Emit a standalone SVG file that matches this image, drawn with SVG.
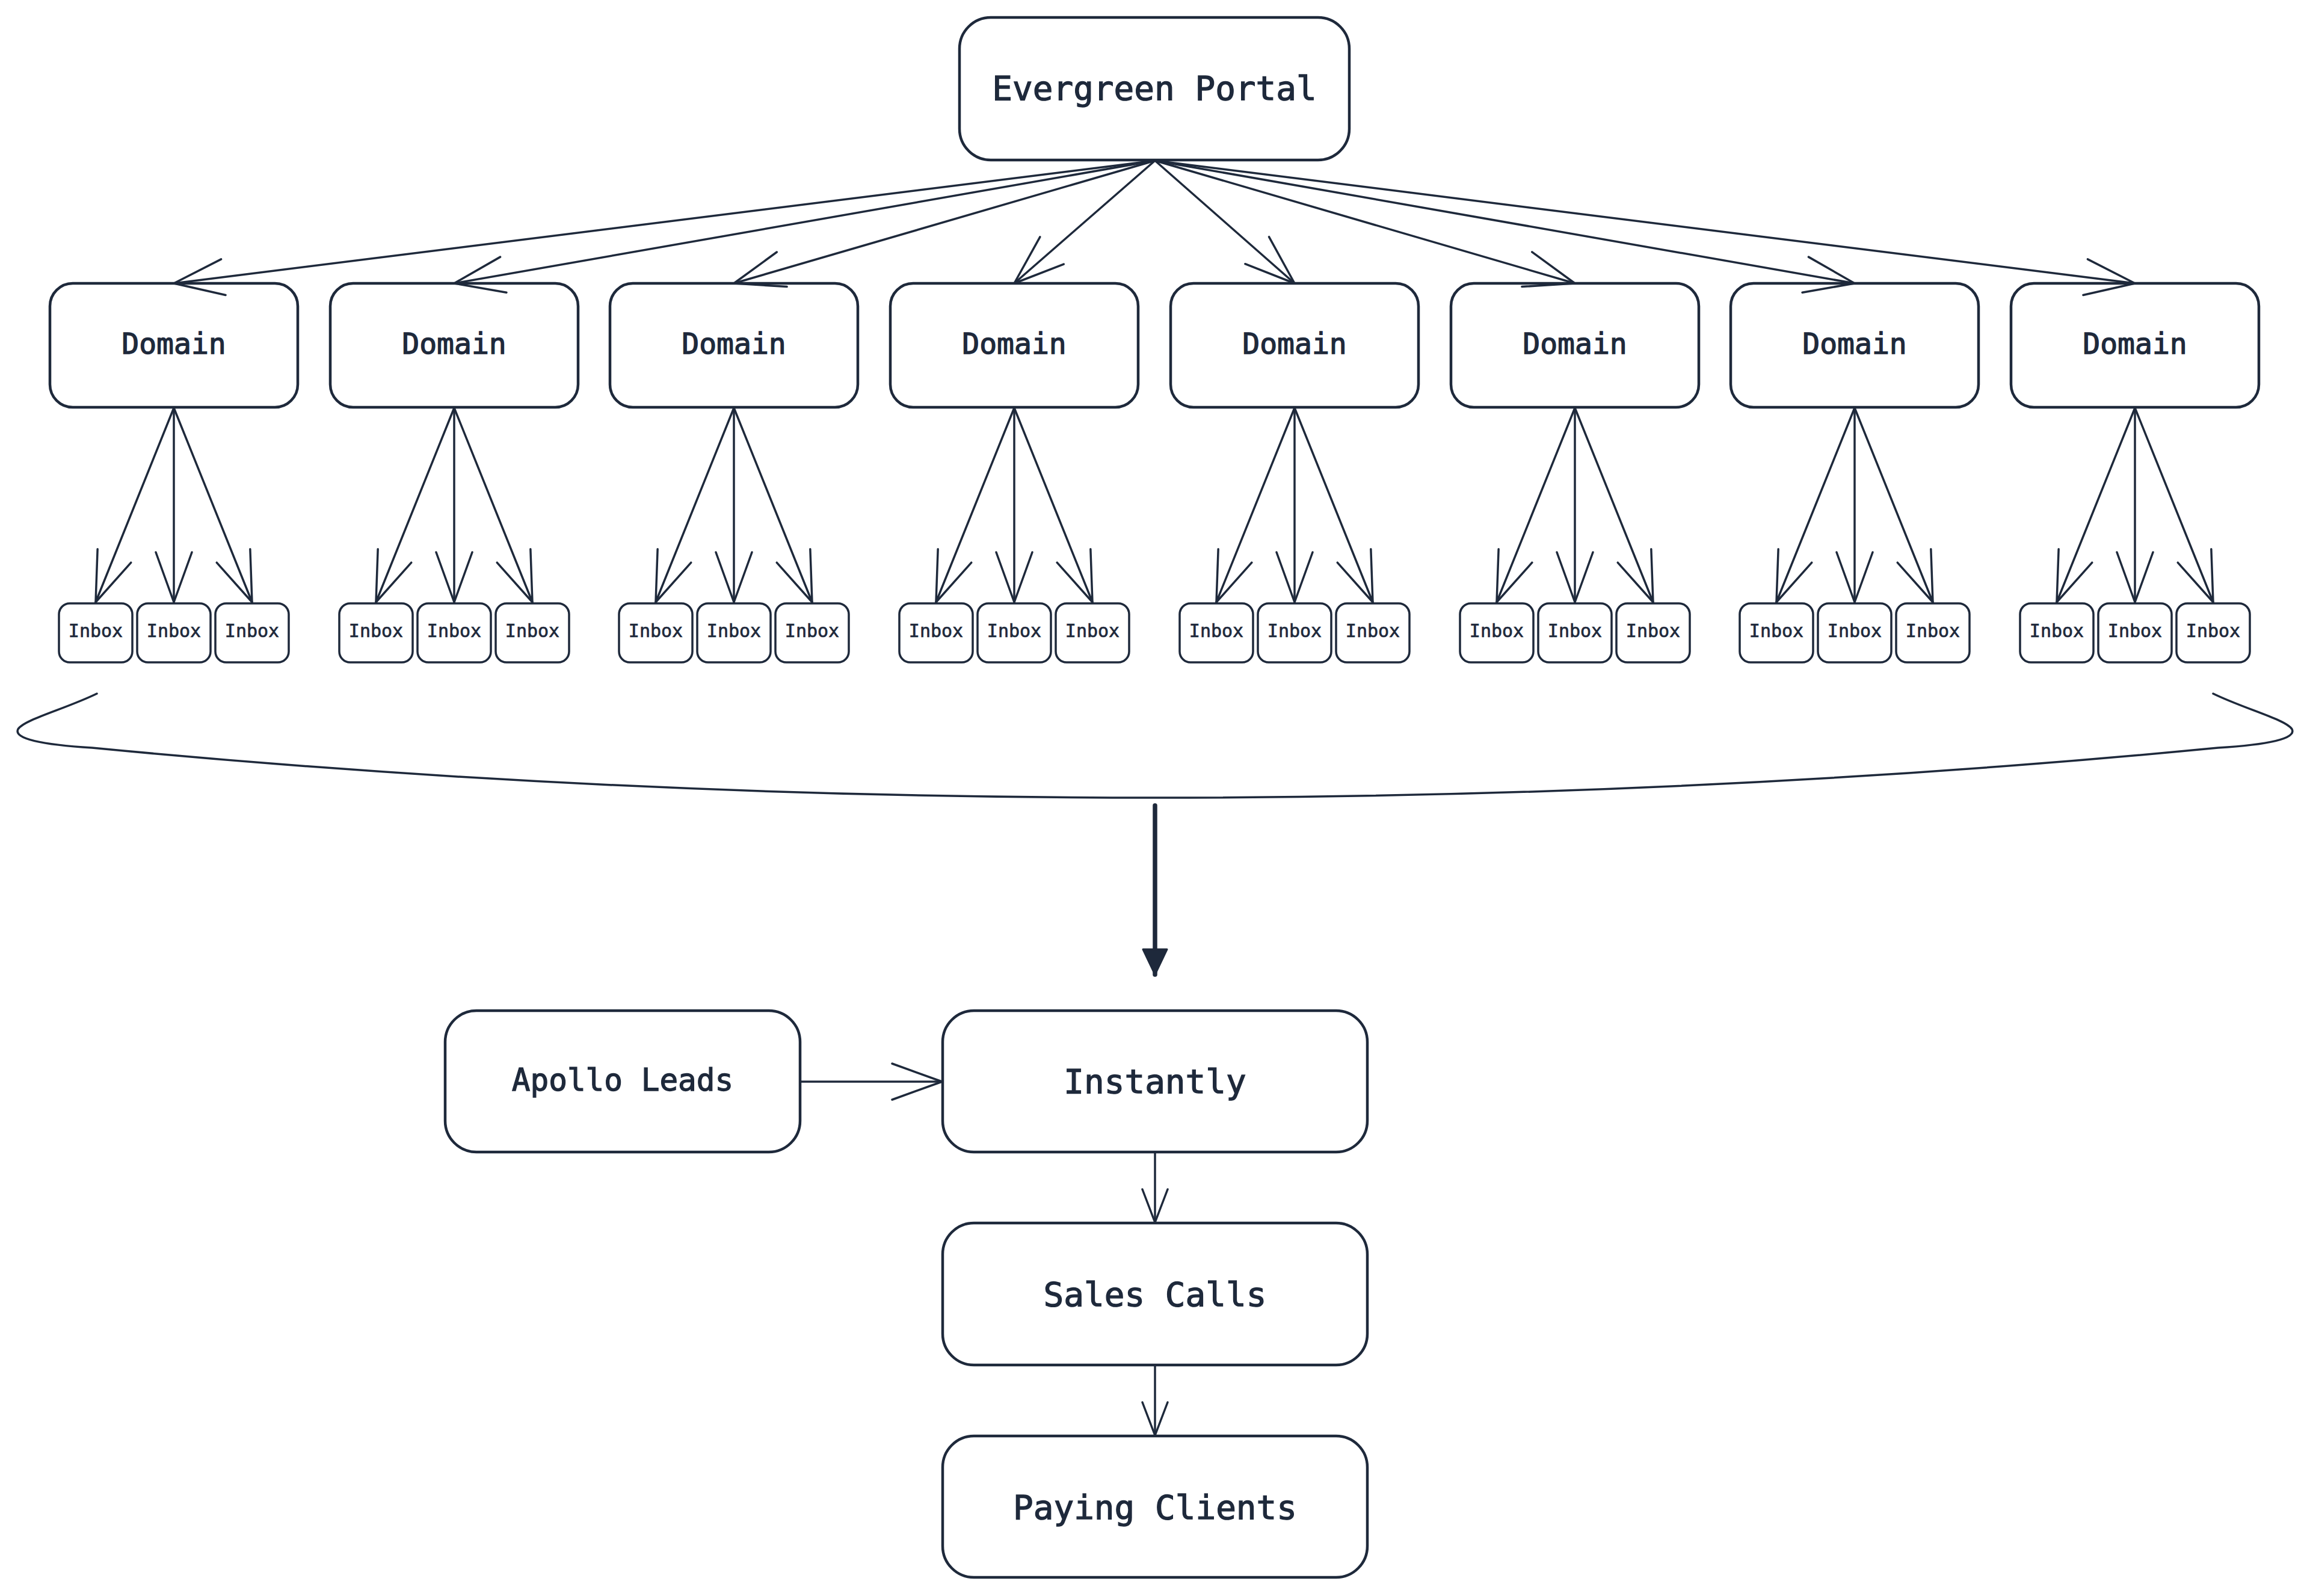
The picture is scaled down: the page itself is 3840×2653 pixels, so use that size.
<svg xmlns="http://www.w3.org/2000/svg" width="3840" height="2653" viewBox="0 0 3840 2653">
<defs>
<style>
.box{fill:#ffffff;stroke:#1e293b;stroke-width:4.5}
.ibox{fill:#ffffff;stroke:#1e293b;stroke-width:3.5}
.t{font-family:"DejaVu Sans Mono","Liberation Mono",monospace;fill:#1e293b;stroke:#1e293b;stroke-width:1.3;text-anchor:middle}
.big{font-size:56px}
.mid{font-size:51px}
.dom{font-size:48px}
.sm{font-size:30px;stroke-width:0.7}
.e{fill:none;stroke:#1e293b;stroke-width:3.5;stroke-linecap:round}
.ea{marker-end:url(#open)}
.es{marker-end:url(#openS)}
</style>
<marker id="open" markerUnits="userSpaceOnUse" viewBox="-100 -50 110 100" markerWidth="110" markerHeight="100" refX="0" refY="0" orient="auto" overflow="visible">
<path d="M-83,-30 L0,0 L-83,30" fill="none" stroke="#1e293b" stroke-width="3.5" stroke-linecap="round" stroke-linejoin="round"/>
</marker>
<marker id="openS" markerUnits="userSpaceOnUse" viewBox="-70 -35 80 70" markerWidth="80" markerHeight="70" refX="0" refY="0" orient="auto" overflow="visible">
<path d="M-55,-21 L0,0 L-55,21" fill="none" stroke="#1e293b" stroke-width="3.5" stroke-linecap="round" stroke-linejoin="round"/>
</marker>
<marker id="tri" markerUnits="userSpaceOnUse" viewBox="-50 -30 60 60" markerWidth="60" markerHeight="60" refX="0" refY="0" orient="auto" overflow="visible">
<path d="M-42,-20 L0,0 L-42,20 Z" fill="#1e293b" stroke="#1e293b" stroke-width="3" stroke-linejoin="round"/>
</marker>
</defs>
<rect x="0" y="0" width="3840" height="2653" fill="#ffffff"/>

<g id="node-portal"><rect class="box" x="1595" y="29" width="648" height="237" rx="52"/><text class="t big" x="1919" y="166">Evergreen Portal</text></g>

<g id="node-domain-1"><rect class="box" x="83" y="471" width="412" height="206" rx="38"/><text class="t dom" x="289" y="588">Domain</text></g>
<g id="node-domain-2"><rect class="box" x="549" y="471" width="412" height="206" rx="38"/><text class="t dom" x="755" y="588">Domain</text></g>
<g id="node-domain-3"><rect class="box" x="1014" y="471" width="412" height="206" rx="38"/><text class="t dom" x="1220" y="588">Domain</text></g>
<g id="node-domain-4"><rect class="box" x="1480" y="471" width="412" height="206" rx="38"/><text class="t dom" x="1686" y="588">Domain</text></g>
<g id="node-domain-5"><rect class="box" x="1946" y="471" width="412" height="206" rx="38"/><text class="t dom" x="2152" y="588">Domain</text></g>
<g id="node-domain-6"><rect class="box" x="2412" y="471" width="412" height="206" rx="38"/><text class="t dom" x="2618" y="588">Domain</text></g>
<g id="node-domain-7"><rect class="box" x="2877" y="471" width="412" height="206" rx="38"/><text class="t dom" x="3083" y="588">Domain</text></g>
<g id="node-domain-8"><rect class="box" x="3343" y="471" width="412" height="206" rx="38"/><text class="t dom" x="3549" y="588">Domain</text></g>

<g id="node-inbox-1a"><rect class="ibox" x="98" y="1003" width="122" height="98" rx="18"/><text class="t sm" x="159" y="1059">Inbox</text></g>
<g id="node-inbox-1b"><rect class="ibox" x="228" y="1003" width="122" height="98" rx="18"/><text class="t sm" x="289" y="1059">Inbox</text></g>
<g id="node-inbox-1c"><rect class="ibox" x="358" y="1003" width="122" height="98" rx="18"/><text class="t sm" x="419" y="1059">Inbox</text></g>
<g id="node-inbox-2a"><rect class="ibox" x="564" y="1003" width="122" height="98" rx="18"/><text class="t sm" x="625" y="1059">Inbox</text></g>
<g id="node-inbox-2b"><rect class="ibox" x="694" y="1003" width="122" height="98" rx="18"/><text class="t sm" x="755" y="1059">Inbox</text></g>
<g id="node-inbox-2c"><rect class="ibox" x="824" y="1003" width="122" height="98" rx="18"/><text class="t sm" x="885" y="1059">Inbox</text></g>
<g id="node-inbox-3a"><rect class="ibox" x="1029" y="1003" width="122" height="98" rx="18"/><text class="t sm" x="1090" y="1059">Inbox</text></g>
<g id="node-inbox-3b"><rect class="ibox" x="1159" y="1003" width="122" height="98" rx="18"/><text class="t sm" x="1220" y="1059">Inbox</text></g>
<g id="node-inbox-3c"><rect class="ibox" x="1289" y="1003" width="122" height="98" rx="18"/><text class="t sm" x="1350" y="1059">Inbox</text></g>
<g id="node-inbox-4a"><rect class="ibox" x="1495" y="1003" width="122" height="98" rx="18"/><text class="t sm" x="1556" y="1059">Inbox</text></g>
<g id="node-inbox-4b"><rect class="ibox" x="1625" y="1003" width="122" height="98" rx="18"/><text class="t sm" x="1686" y="1059">Inbox</text></g>
<g id="node-inbox-4c"><rect class="ibox" x="1755" y="1003" width="122" height="98" rx="18"/><text class="t sm" x="1816" y="1059">Inbox</text></g>
<g id="node-inbox-5a"><rect class="ibox" x="1961" y="1003" width="122" height="98" rx="18"/><text class="t sm" x="2022" y="1059">Inbox</text></g>
<g id="node-inbox-5b"><rect class="ibox" x="2091" y="1003" width="122" height="98" rx="18"/><text class="t sm" x="2152" y="1059">Inbox</text></g>
<g id="node-inbox-5c"><rect class="ibox" x="2221" y="1003" width="122" height="98" rx="18"/><text class="t sm" x="2282" y="1059">Inbox</text></g>
<g id="node-inbox-6a"><rect class="ibox" x="2427" y="1003" width="122" height="98" rx="18"/><text class="t sm" x="2488" y="1059">Inbox</text></g>
<g id="node-inbox-6b"><rect class="ibox" x="2557" y="1003" width="122" height="98" rx="18"/><text class="t sm" x="2618" y="1059">Inbox</text></g>
<g id="node-inbox-6c"><rect class="ibox" x="2687" y="1003" width="122" height="98" rx="18"/><text class="t sm" x="2748" y="1059">Inbox</text></g>
<g id="node-inbox-7a"><rect class="ibox" x="2892" y="1003" width="122" height="98" rx="18"/><text class="t sm" x="2953" y="1059">Inbox</text></g>
<g id="node-inbox-7b"><rect class="ibox" x="3022" y="1003" width="122" height="98" rx="18"/><text class="t sm" x="3083" y="1059">Inbox</text></g>
<g id="node-inbox-7c"><rect class="ibox" x="3152" y="1003" width="122" height="98" rx="18"/><text class="t sm" x="3213" y="1059">Inbox</text></g>
<g id="node-inbox-8a"><rect class="ibox" x="3358" y="1003" width="122" height="98" rx="18"/><text class="t sm" x="3419" y="1059">Inbox</text></g>
<g id="node-inbox-8b"><rect class="ibox" x="3488" y="1003" width="122" height="98" rx="18"/><text class="t sm" x="3549" y="1059">Inbox</text></g>
<g id="node-inbox-8c"><rect class="ibox" x="3618" y="1003" width="122" height="98" rx="18"/><text class="t sm" x="3679" y="1059">Inbox</text></g>

<g id="node-apollo"><rect class="box" x="740" y="1680" width="590" height="235" rx="52"/><text class="t mid" x="1035" y="1813">Apollo Leads</text></g>
<g id="node-instantly"><rect class="box" x="1567" y="1680" width="706" height="235" rx="52"/><text class="t big" x="1920" y="1817">Instantly</text></g>
<g id="node-sales"><rect class="box" x="1567" y="2033" width="706" height="236" rx="52"/><text class="t big" x="1920" y="2171">Sales Calls</text></g>
<g id="node-paying"><rect class="box" x="1567" y="2387" width="706" height="235" rx="52"/><text class="t big" x="1920" y="2525">Paying Clients</text></g>

<g id="connectors">
<line class="e ea" x1="1920" y1="267" x2="289" y2="471"/>
<line class="e ea" x1="1920" y1="267" x2="755" y2="471"/>
<line class="e ea" x1="1920" y1="267" x2="1220" y2="471"/>
<line class="e ea" x1="1920" y1="267" x2="1686" y2="471"/>
<line class="e ea" x1="1920" y1="267" x2="2152" y2="471"/>
<line class="e ea" x1="1920" y1="267" x2="2618" y2="471"/>
<line class="e ea" x1="1920" y1="267" x2="3083" y2="471"/>
<line class="e ea" x1="1920" y1="267" x2="3549" y2="471"/>

<line class="e ea" x1="289" y1="678" x2="159" y2="1001"/>
<line class="e ea" x1="289" y1="678" x2="289" y2="1001"/>
<line class="e ea" x1="289" y1="678" x2="419" y2="1001"/>
<line class="e ea" x1="755" y1="678" x2="625" y2="1001"/>
<line class="e ea" x1="755" y1="678" x2="755" y2="1001"/>
<line class="e ea" x1="755" y1="678" x2="885" y2="1001"/>
<line class="e ea" x1="1220" y1="678" x2="1090" y2="1001"/>
<line class="e ea" x1="1220" y1="678" x2="1220" y2="1001"/>
<line class="e ea" x1="1220" y1="678" x2="1350" y2="1001"/>
<line class="e ea" x1="1686" y1="678" x2="1556" y2="1001"/>
<line class="e ea" x1="1686" y1="678" x2="1686" y2="1001"/>
<line class="e ea" x1="1686" y1="678" x2="1816" y2="1001"/>
<line class="e ea" x1="2152" y1="678" x2="2022" y2="1001"/>
<line class="e ea" x1="2152" y1="678" x2="2152" y2="1001"/>
<line class="e ea" x1="2152" y1="678" x2="2282" y2="1001"/>
<line class="e ea" x1="2618" y1="678" x2="2488" y2="1001"/>
<line class="e ea" x1="2618" y1="678" x2="2618" y2="1001"/>
<line class="e ea" x1="2618" y1="678" x2="2748" y2="1001"/>
<line class="e ea" x1="3083" y1="678" x2="2953" y2="1001"/>
<line class="e ea" x1="3083" y1="678" x2="3083" y2="1001"/>
<line class="e ea" x1="3083" y1="678" x2="3213" y2="1001"/>
<line class="e ea" x1="3549" y1="678" x2="3419" y2="1001"/>
<line class="e ea" x1="3549" y1="678" x2="3549" y2="1001"/>
<line class="e ea" x1="3549" y1="678" x2="3679" y2="1001"/>

<path class="e" d="M161,1153 C110,1178 40,1196 30,1212 C22,1228 70,1238 153,1243 Q1013,1326 1920,1326 Q2827,1326 3687,1243 C3770,1238 3818,1228 3810,1212 C3800,1196 3730,1178 3679,1153"/>

<line x1="1920" y1="1339" x2="1920" y2="1620" stroke="#1e293b" stroke-width="7.5" stroke-linecap="round" marker-end="url(#tri)"/>

<line class="e ea" x1="1332" y1="1798" x2="1566" y2="1798"/>
<line class="e es" x1="1920" y1="1915" x2="1920" y2="2032"/>
<line class="e es" x1="1920" y1="2269" x2="1920" y2="2386"/>
</g>
</svg>
